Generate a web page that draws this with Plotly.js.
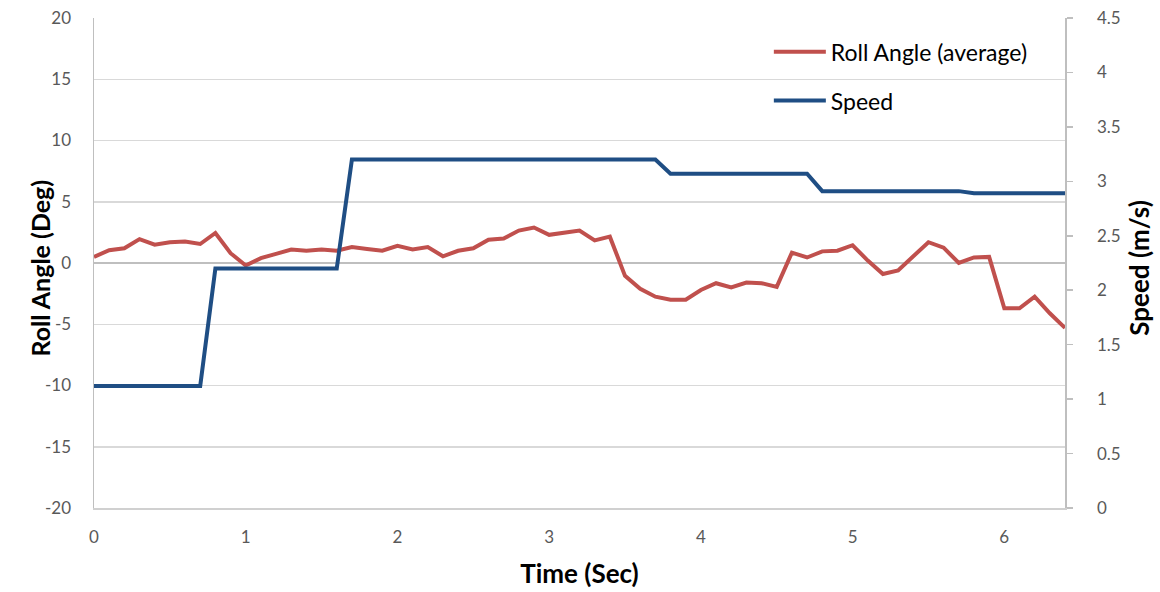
<!DOCTYPE html>
<html>
<head>
<meta charset="utf-8">
<script src="https://cdn.plot.ly/plotly-3.0.1.min.js"></script>
<style>html,body{margin:0;padding:0;background:#fff;}#chart{width:1160px;height:592px;}</style>
</head>
<body>
<div id="chart"></div>
<script>
const timeSec = [0.0,0.1,0.2,0.3,0.4,0.5,0.6,0.7,0.8,0.9,1.0,1.1,1.2,1.3,1.4,1.5,1.6,1.7,1.8,1.9,2.0,2.1,2.2,2.3,2.4,2.5,2.6,2.7,2.8,2.9,3.0,3.1,3.2,3.3,3.4,3.5,3.6,3.7,3.8,3.9,4.0,4.1,4.2,4.3,4.4,4.5,4.6,4.7,4.8,4.9,5.0,5.1,5.2,5.3,5.4,5.5,5.6,5.7,5.8,5.9,6.0,6.1,6.2,6.3,6.4];
const rollAngle = [0.5,1.05,1.2,1.95,1.5,1.7,1.75,1.55,2.45,0.8,-0.2,0.4,0.75,1.1,1.0,1.1,1.0,1.3,1.15,1.0,1.4,1.1,1.3,0.55,1.0,1.2,1.9,2.0,2.65,2.9,2.3,2.45,2.65,1.85,2.15,-1.05,-2.1,-2.75,-3.0,-3.0,-2.2,-1.65,-2.0,-1.6,-1.65,-1.95,0.85,0.45,0.95,1.0,1.45,0.2,-0.9,-0.6,0.6,1.7,1.25,0.0,0.45,0.5,-3.7,-3.7,-2.75,-4.1,-5.3];
const speed = [1.12,1.12,1.12,1.12,1.12,1.12,1.12,1.12,2.2,2.2,2.2,2.2,2.2,2.2,2.2,2.2,2.2,3.2,3.2,3.2,3.2,3.2,3.2,3.2,3.2,3.2,3.2,3.2,3.2,3.2,3.2,3.2,3.2,3.2,3.2,3.2,3.2,3.2,3.07,3.07,3.07,3.07,3.07,3.07,3.07,3.07,3.07,3.07,2.91,2.91,2.91,2.91,2.91,2.91,2.91,2.91,2.91,2.91,2.89,2.89,2.89,2.89,2.89,2.89,2.89];
const xTicks = [0,1,2,3,4,5,6];
const leftTicks = [-20,-15,-10,-5,0,5,10,15,20];
const rightTicks = [0,0.5,1,1.5,2,2.5,3,3.5,4,4.5];
const xTitle = 'Time (Sec)';
const leftTitle = 'Roll Angle (Deg)';
const rightTitle = 'Speed (m/s)';

const tickFont = {family: 'Lato, sans-serif', size: 17, color: '#595959'};
const titleFont = {family: 'Lato, sans-serif', size: 26, color: '#000', weight: 'bold'};
const leftTitleFont = {family: 'Lato, sans-serif', size: 25, color: '#000', weight: 'bold'};

const traces = [
  {x: timeSec, y: rollAngle, type: 'scatter', mode: 'lines', name: 'Roll Angle (average)',
   line: {color: '#c0504d', width: 4}, legendgroup: 'a'},
  {x: timeSec, y: speed, type: 'scatter', mode: 'lines', name: 'Speed', yaxis: 'y2',
   line: {color: '#1f4e84', width: 4}, legendgroup: 'b'}
];

const layout = {
  width: 1160, height: 592,
  margin: {l: 94, r: 95, t: 18, b: 84},
  paper_bgcolor: '#fff', plot_bgcolor: '#fff',
  showlegend: true,
  legend: {x: 0.695, y: 0.975, xanchor: 'left', yanchor: 'top', bgcolor: 'rgba(0,0,0,0)',
    font: {family: 'Lato, sans-serif', size: 23, color: '#000'}, tracegroupgap: 16, itemwidth: 52, traceorder: 'grouped'},
  xaxis: {range: [0, 6.4], tickvals: xTicks, ticktext: xTicks.map(String), showgrid: false, zeroline: false,
    showline: true, linecolor: '#d0d0d0', linewidth: 1.5, ticks: '', tickfont: tickFont, ticklabelstandoff: 13,
    title: {text: xTitle, font: titleFont, standoff: 19}},
  yaxis: {range: [-20, 20], tickvals: leftTicks, ticktext: leftTicks.map(String), showgrid: true, gridcolor: '#d9d9d9', gridwidth: 1.5,
    zeroline: true, zerolinecolor: '#bfbfbf', zerolinewidth: 2,
    showline: true, linecolor: '#bfbfbf', linewidth: 1.5, ticks: '', tickfont: tickFont, ticklabelstandoff: 18},
  yaxis2: {range: [0, 4.5], overlaying: 'y', side: 'right', tickvals: rightTicks, ticktext: rightTicks.map(String),
    showgrid: false, zeroline: false, showline: true, linecolor: '#bfbfbf', linewidth: 1.5,
    ticks: 'outside', ticklen: 6, tickcolor: '#bfbfbf', tickwidth: 1.5, tickfont: tickFont, ticklabelstandoff: 21},
  annotations: [
    {text: leftTitle, xref: 'paper', yref: 'paper', x: -0.056, y: 0.49, xanchor: 'center', yanchor: 'middle',
     textangle: -90, showarrow: false, font: leftTitleFont},
    {text: rightTitle, xref: 'paper', yref: 'paper', x: 1.076, y: 0.49, xanchor: 'center', yanchor: 'middle',
     textangle: -90, showarrow: false, font: titleFont}
  ]
};

Plotly.newPlot('chart', traces, layout, {displayModeBar: false, staticPlot: true});
</script>
</body>
</html>
